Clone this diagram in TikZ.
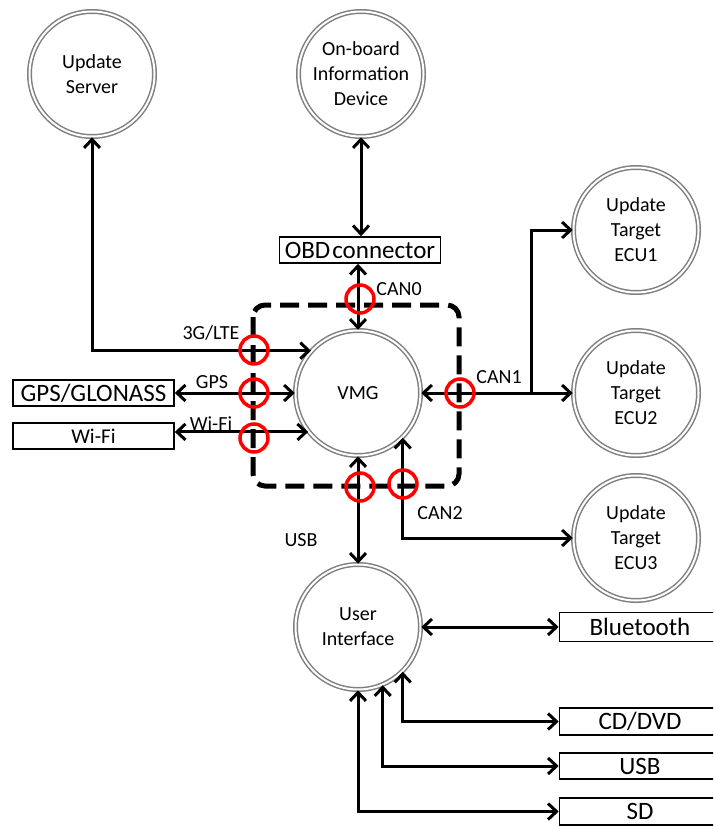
\documentclass[tikz,border=0pt]{standalone}
\usepackage{fontspec}
\setmainfont{Carlito}
\usetikzlibrary{arrows.meta}
\begin{document}
\begin{tikzpicture}[x=1pt,y=-1pt,
  >={Straight Barb[length=8.5pt,width=16pt]},
  circ/.style={circle, draw=black!50, double=white, double distance=2pt, line width=1.5pt,
    minimum size=125pt, inner sep=0pt, align=center, font=\fontsize{20}{25}\selectfont},
  boxnode/.style={draw, line width=1.6pt, inner sep=0pt, minimum width=161pt, minimum height=26pt,
    font=\fontsize{25}{25}\selectfont},
  conn/.style={line width=3pt},
  lbl/.style={inner sep=0pt, font=\fontsize{20}{24}\selectfont},
  redring/.style={circle, draw=red, line width=3.5pt, minimum size=28pt, inner sep=0pt},
  vmgbox/.style={line width=5pt, dash pattern=on 19pt off 9pt, rounded corners=12pt}
]
\useasboundingbox (0,0) rectangle (713,826);
\clip (0,0) rectangle (713,826);

% circles
\node[circ] (server) at (92,74) {Update\\Server};
\node[circ] (obdev) at (361,74) {On-board\\Information\\Device};
\node[circ] (vmg) at (358,393) {VMG};
\node[circ] (ecu1) at (636,230) {Update\\Target\\ECU1};
\node[circ] (ecu2) at (636,393) {Update\\Target\\ECU2};
\node[circ] (ecu3) at (636,538) {Update\\Target\\ECU3};
\node[circ] (ui) at (358,627) {User\\Interface};

% boxes
\node[boxnode] (obd) at (360,250) {OBD\kern2pt connector};
\node[boxnode] (gps) at (93.5,393) {GPS/GLONASS};
\node[boxnode, font=\fontsize{21}{21}\selectfont] (wifi) at (93.5,436) {Wi-Fi};
\node[boxnode, minimum height=29pt] (bt) at (640,627) {Bluetooth};
\node[boxnode, minimum height=27pt] (cd) at (640,721.5) {CD/DVD};
\node[boxnode] (usbbox) at (640,766) {USB};
\node[boxnode, minimum height=27pt] (sd) at (640,811.5) {SD};

% dashed VMG boundary
\draw[vmgbox] (253,305) rectangle (459,486);

% connectors
\draw[conn,<->] (server.south) |- (vmg.138.6);
\draw[conn,<->] (obdev.south) -- (obdev.south |- obd.north);
\draw[conn,<->] (vmg.north |- obd.south) -- (vmg.north);
\draw[conn,<->] (gps.east) -- (vmg.west);
\draw[conn,<->] (wifi.east |- vmg.218) -- (vmg.218);
\draw[conn,<->] (vmg.east) -- (ecu2.west);
\coordinate (br) at (531,393);
\draw[conn,->] (br) |- (ecu1.west);
\draw[conn,<->] (vmg.south) -- (ui.north);
\draw[conn,<->] (vmg.-45) |- (ecu3.west);
\draw[conn,<->] (ui.east) -- (bt.west);
\draw[conn,<->] (ui.-45) |- (cd.west);
\draw[conn,<->] (ui.-67.4) |- (usbbox.west);
\draw[conn,<->] (ui.south) |- (sd.west);

% red rings
\node[redring] (rcan0) at (360,299) {};
\node[redring] (r3g) at (254,350) {};
\node[redring] (rgps) at (254,393) {};
\node[redring] (rwifi) at (254,438) {};
\node[redring] (rcan1) at (460,393) {};
\node[redring] (rusb) at (360,487) {};
\node[redring] (rcan2) at (403,484) {};

% labels
\node[lbl] (l3g) at (211,333) {3G/LTE};
\node[lbl] (lgps) at (212,382) {GPS};
\node[lbl] (lwifi) at (211,424) {Wi-Fi};
\node[lbl] (lcan0) at (399,289) {CAN0};
\node[lbl] (lcan1) at (499,377) {CAN1};
\node[lbl] (lcan2) at (440,513) {CAN2};
\node[lbl] (lusb) at (301,540) {USB};
\end{tikzpicture}
\end{document}
